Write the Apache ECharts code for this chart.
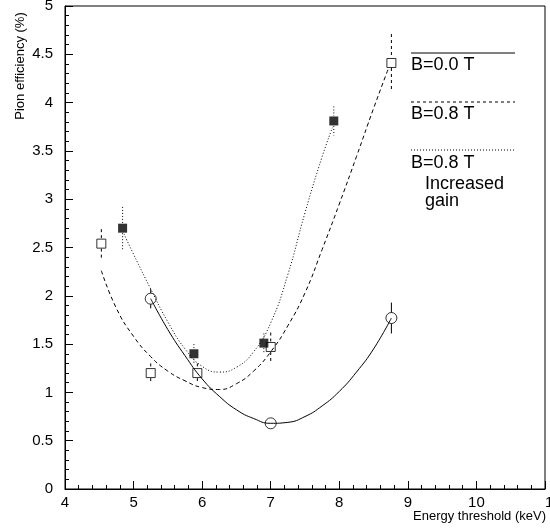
<!DOCTYPE html>
<html>
<head>
<meta charset="utf-8">
<script src="https://cdn.jsdelivr.net/npm/echarts@6/dist/echarts.min.js"></script>
<style>
  html, body { margin: 0; padding: 0; background: #fff; }
  #chart { width: 550px; height: 529px; }
</style>
</head>
<body>
<div id="chart"></div>
<script>
// Measured points
var openSquareX = [4.53, 5.25, 5.93, 7.0, 8.76]
var openSquareY = [2.54, 1.2, 1.2, 1.47, 4.41]
var openSquareErr = [0.15, 0.1, 0.1, 0.15, 0.3]

var filledSquareX = [4.84, 5.88, 6.9, 7.92]
var filledSquareY = [2.70, 1.40, 1.51, 3.81]
var filledSquareErr = [0.22, 0.1, 0.1, 0.15]

var circleX = [5.25, 7.0, 8.76]
var circleY = [1.97, 0.68, 1.77]
var circleErr = [0.1, 0.03, 0.16]

// Fit curves
var solidFitX = [5.25, 5.5, 5.75, 6.0, 6.25, 6.5, 6.75, 7.0, 7.25, 7.5, 7.75, 8.0, 8.25, 8.5, 8.76]
var solidFitY = [1.97, 1.65, 1.38, 1.14, 0.96, 0.82, 0.73, 0.68, 0.69, 0.75, 0.86, 1.01, 1.21, 1.45, 1.77]

var dashedFitX = [4.53, 4.75, 5.0, 5.25, 5.5, 5.75, 6.0, 6.25, 6.5, 6.75, 7.0, 7.25, 7.5, 7.75, 8.0, 8.25, 8.5, 8.72]
var dashedFitY = [2.26, 1.87, 1.58, 1.37, 1.22, 1.12, 1.05, 1.03, 1.09, 1.22, 1.42, 1.69, 2.03, 2.48, 2.95, 3.44, 3.94, 4.36]

var dottedFitX = [4.86, 5.0, 5.25, 5.5, 5.75, 6.0, 6.25, 6.5, 6.75, 7.0, 7.25, 7.5, 7.75, 7.9]
var dottedFitY = [2.64, 2.43, 2.07, 1.73, 1.45, 1.27, 1.21, 1.26, 1.42, 1.72, 2.22, 2.86, 3.44, 3.74]

var legendLabels = ['B=0.0 T', 'B=0.8 T', 'B=0.8 T']
var legendExtra = ['Increased', 'gain']

function pairs (xs, ys) {
  return xs.map(function (x, i) { return [x, ys[i]] })
}
function triples (xs, ys, es) {
  return xs.map(function (x, i) { return [x, ys[i], es[i]] })
}

// vertical error bar, broken around the marker
function errorBar (half, dash) {
  return function (params, api) {
    var x = api.value(0)
    var y = api.value(1)
    var e = api.value(2)
    var p = api.coord([x, y])
    var top = api.coord([x, y + e])
    var bot = api.coord([x, y - e])
    var style = { stroke: '#000', lineWidth: 1, lineDash: dash }
    var kids = []
    if (top[1] < p[1] - half) {
      kids.push({ type: 'line', shape: { x1: p[0], y1: top[1], x2: p[0], y2: p[1] - half }, style: style })
    }
    if (bot[1] > p[1] + half) {
      kids.push({ type: 'line', shape: { x1: p[0], y1: p[1] + half, x2: p[0], y2: bot[1] }, style: style })
    }
    return { type: 'group', children: kids }
  }
}

var font = 'Liberation Sans'
var chart = echarts.init(document.getElementById('chart'))

chart.setOption({
  animation: false,
  textStyle: { fontFamily: font },
  grid: {
    left: 65,
    right: 5,
    top: 6,
    bottom: 40,
    outerBoundsMode: 'none',
    containLabel: false,
    show: true,
    borderColor: '#000',
    borderWidth: 1
  },
  xAxis: {
    type: 'value',
    min: 4,
    max: 11,
    interval: 1,
    axisLine: { lineStyle: { color: '#000', width: 1 } },
    axisTick: { inside: true, length: 8, lineStyle: { color: '#000' } },
    minorTick: { show: true, splitNumber: 5, length: 4, lineStyle: { color: '#000' } },
    splitLine: { show: false },
    axisLabel: {
      color: '#000',
      fontSize: 15,
      margin: 6,
      alignMaxLabel: 'left'
    }
  },
  yAxis: {
    type: 'value',
    min: 0,
    max: 5,
    interval: 0.5,
    axisLine: { lineStyle: { color: '#000', width: 1 } },
    axisTick: { inside: true, length: 8, lineStyle: { color: '#000' } },
    minorTick: { show: true, splitNumber: 5, length: 4, lineStyle: { color: '#000' } },
    splitLine: { show: false },
    axisLabel: { color: '#000', fontSize: 15, margin: 12 }
  },
  series: [
    {
      type: 'line',
      data: pairs(solidFitX, solidFitY),
      smooth: true,
      symbol: 'none',
      lineStyle: { color: '#000', width: 1 }
    },
    {
      type: 'line',
      data: pairs(dashedFitX, dashedFitY),
      smooth: true,
      symbol: 'none',
      lineStyle: { color: '#000', width: 1, type: [4, 3] }
    },
    {
      type: 'line',
      data: pairs(dottedFitX, dottedFitY),
      smooth: true,
      symbol: 'none',
      lineStyle: { color: '#000', width: 1, type: [1, 2] }
    },
    {
      type: 'custom',
      renderItem: errorBar(5, [3, 3]),
      data: triples(openSquareX, openSquareY, openSquareErr)
    },
    {
      type: 'custom',
      renderItem: errorBar(5, [1, 2]),
      data: triples(filledSquareX, filledSquareY, filledSquareErr)
    },
    {
      type: 'custom',
      renderItem: errorBar(5.5, null),
      data: triples(circleX, circleY, circleErr)
    },
    {
      type: 'scatter',
      data: pairs(openSquareX, openSquareY),
      symbol: 'rect',
      symbolSize: 9,
      itemStyle: { color: 'rgba(0,0,0,0)', borderColor: '#000', borderWidth: 1 }
    },
    {
      type: 'scatter',
      data: pairs(filledSquareX, filledSquareY),
      symbol: 'rect',
      symbolSize: 9,
      itemStyle: { color: '#000' }
    },
    {
      type: 'scatter',
      data: pairs(circleX, circleY),
      symbol: 'circle',
      symbolSize: 11,
      itemStyle: { color: 'rgba(0,0,0,0)', borderColor: '#000', borderWidth: 1 }
    }
  ],
  graphic: [
    { type: 'line', shape: { x1: 411, y1: 53, x2: 515, y2: 53 }, style: { stroke: '#000', lineWidth: 1 } },
    { type: 'line', shape: { x1: 411, y1: 102, x2: 515, y2: 102 }, style: { stroke: '#000', lineWidth: 1, lineDash: [3, 3] } },
    { type: 'line', shape: { x1: 411, y1: 150, x2: 515, y2: 150 }, style: { stroke: '#000', lineWidth: 1, lineDash: [1, 2] } },
    { type: 'text', left: 411, top: 56, style: { text: legendLabels[0], font: '18px ' + font, fill: '#000' } },
    { type: 'text', left: 411, top: 105, style: { text: legendLabels[1], font: '18px ' + font, fill: '#000' } },
    { type: 'text', left: 411, top: 154, style: { text: legendLabels[2], font: '18px ' + font, fill: '#000' } },
    { type: 'text', left: 425, top: 175, style: { text: legendExtra[0], font: '18px ' + font, fill: '#000' } },
    { type: 'text', left: 425, top: 192, style: { text: legendExtra[1], font: '18px ' + font, fill: '#000' } },
    { type: 'text', right: 4, top: 510, style: { text: 'Energy threshold (keV)', font: '13px ' + font, fill: '#000' } },
    {
      type: 'text',
      x: 20,
      y: 66,
      rotation: Math.PI / 2,
      style: { text: 'Pion efficiency (%)', font: '13px ' + font, fill: '#000', align: 'center', verticalAlign: 'middle' }
    }
  ]
})
</script>
</body>
</html>
